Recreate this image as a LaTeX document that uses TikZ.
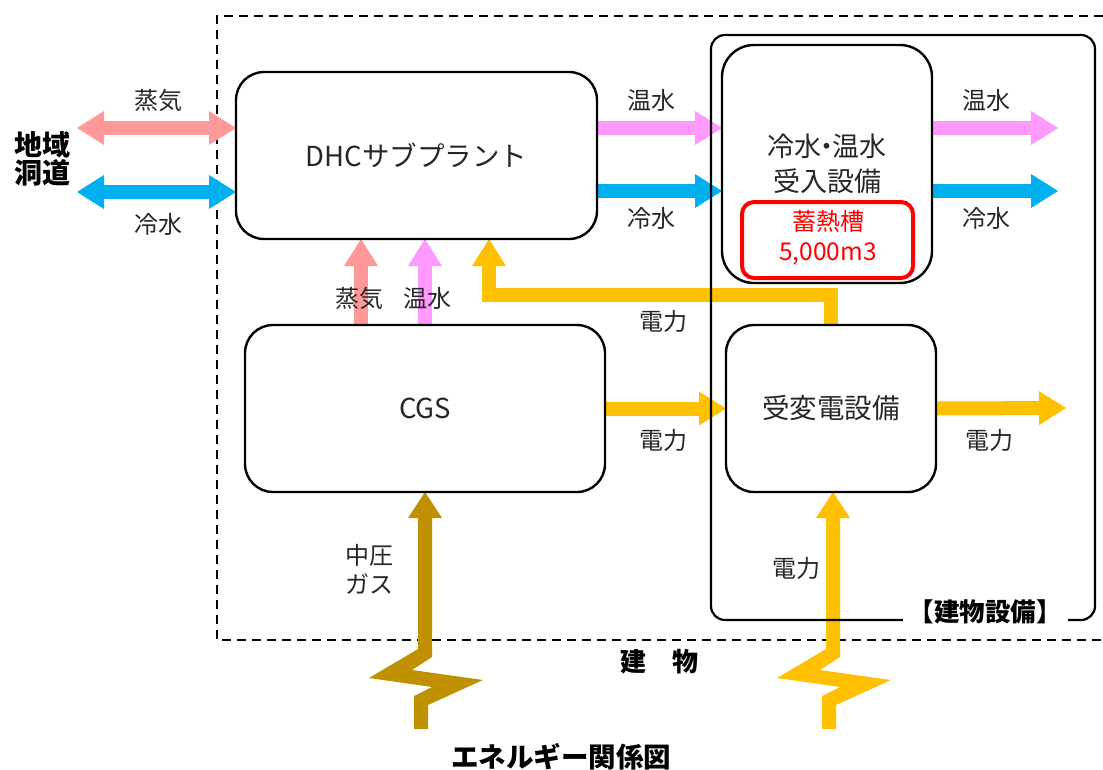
\documentclass[tikz,border=0pt]{standalone}
\usepackage{fontspec}
\setmainfont{Noto Sans CJK JP}
\usetikzlibrary{arrows.meta}
\definecolor{steamc}{RGB}{255,153,153}
\definecolor{coldc}{RGB}{0,176,240}
\definecolor{hotc}{RGB}{255,153,255}
\definecolor{elec}{RGB}{255,192,0}
\definecolor{gasc}{RGB}{191,144,0}
\definecolor{txt}{RGB}{38,38,38}
\begin{document}
\begin{tikzpicture}[x=1pt,y=-1pt,
  box/.style={draw, line width=2.4pt, rounded corners=28pt, inner sep=0pt, outer sep=0pt,
    text=txt, font=\fontsize{27.5}{32}\selectfont},
  lbl/.style={font=\fontsize{24}{28}\selectfont, text=txt, inner sep=0pt},
  blbl/.style={font=\fontsize{27}{31}\selectfont\bfseries, text=black, inner sep=0pt},
  tipA/.tip={Triangle[width=34pt,length=27pt,line width=0pt]},
  flow/.style={line width=14pt, line join=miter, -tipA},
  flowtwo/.style={line width=14pt, tipA-tipA},
  zig/.style={fill, draw=none},
]
\useasboundingbox (0,0) rectangle (1103,769);

% building outline (dashed)
\draw[line width=1.8pt, dash pattern=on 9pt off 6pt] (1103,16) -- (217,16) -- (217,640) -- (1103,640);

% node geometry (named), drawn again on top later
\path
  (416.5,155.5) node[box, draw=none, minimum width=361pt, minimum height=167pt] (dhc) {}
  (425,408.5)   node[box, draw=none, minimum width=360pt, minimum height=167pt] (cgs) {}
  (827,164)     node[box, draw=none, minimum width=210pt, minimum height=238pt] (uke) {}
  (831,408.5)   node[box, draw=none, minimum width=210pt, minimum height=167pt] (hen) {};

% coordinates for free ends
\coordinate (L1) at (77,128);
\coordinate (L2) at (77,192);
\coordinate (R1) at (1058,128);
\coordinate (R2) at (1058,191);
\coordinate (R3) at (1066,408);
\coordinate (bend) at (489,295);

% flows
\draw[flowtwo, steamc] (L1) -- (dhc.west |- L1);
\draw[flowtwo, coldc]  (L2) -- (dhc.west |- L2);
\draw[flow, hotc]  (dhc.east |- R1) -- (uke.west |- R1);
\draw[flow, coldc] (dhc.east |- R2) -- (uke.west |- R2);
\draw[flow, hotc]  (uke.east |- R1) -- (R1);
\draw[flow, coldc] (uke.east |- R2) -- (R2);
\draw[flow, steamc] (cgs.north -| 361,0) -- (dhc.south -| 361,0);
\draw[flow, hotc]   (cgs.north -| 425,0) -- (dhc.south -| 425,0);
\draw[flow, elec] (hen.north) |- (bend) -- (bend |- dhc.south);
\draw[flow, elec] (cgs.east) -- (hen.west);
\draw[flow, elec] (hen.east) -- (R3);

% zig-zag supply arrows
\begin{scope}[shift={(cgs.south)}]
  \path[zig, gasc] (-11,237) -- (-11,204) -- (7,195) -- (-56,186) -- (-7,157) -- (-7,26)
    -- (-17,26) -- (0,0) -- (17,26) -- (7,26) -- (7,165) -- (-13,178) -- (58,188)
    -- (3,213) -- (3,237) -- cycle;
\end{scope}
\begin{scope}[shift={(hen.south)}, xshift=2pt]
  \path[zig, elec] (-11,237) -- (-11,204) -- (7,195) -- (-56,186) -- (-7,157) -- (-7,26)
    -- (-17,26) -- (0,0) -- (17,26) -- (7,26) -- (7,165) -- (-13,178) -- (58,188)
    -- (3,213) -- (3,237) -- cycle;
\end{scope}

% building equipment frame
\draw[line width=2.2pt, rounded corners=14pt] (711,35) rectangle (1095,620);
\node[blbl, fill=white, inner xsep=6pt, inner ysep=4pt, font=\fontsize{25.5}{29}\selectfont\bfseries] (bldg) at (985,612) {【建物設備】};

% boxes drawn on top
\path
  (416.5,155.5) node[box, minimum width=361pt, minimum height=167pt] (dhcb) {DHCサブプラント}
  (425,408.5)   node[box, minimum width=360pt, minimum height=167pt] (cgsb) {CGS}
  (827,164)     node[box, rounded corners=32pt, minimum width=210pt, minimum height=238pt] (ukeb) {}
  (831,408.5)   node[box, minimum width=210pt, minimum height=167pt] (henb) {受変電設備};

\node[box, draw=none, font=\fontsize{27}{31}\selectfont] (uket1) at (827,146) {冷水\kern-.3em・\kern-.3em温水};
\node[box, draw=none, font=\fontsize{27}{31}\selectfont] (uket2) at (827,181) {受入設備};
\node[draw=red, line width=4pt, rounded corners=12pt, minimum width=171pt, minimum height=76pt, inner sep=0pt] (tank) at (827.5,240) {};
\node[lbl, text=red, font=\fontsize{24}{28}\selectfont] (tank1) at (828,221) {蓄熱槽};
\node[lbl, text=red, font=\fontsize{24.5}{28}\selectfont] (tank2) at (828,254) {5,000m3};

% labels
\node[lbl] (l1) at (158,100) {蒸気};
\node[lbl] (l2) at (158,224) {冷水};
\node[lbl] (l3) at (651,100) {温水};
\node[lbl] (l4) at (651,218) {冷水};
\node[lbl] (l5) at (986,100) {温水};
\node[lbl] (l6) at (986,218) {冷水};
\node[lbl] (l7) at (359,298) {蒸気};
\node[lbl] (l8) at (427,298) {温水};
\node[lbl] (l9) at (663,321) {電力};
\node[lbl] (l10) at (663,440) {電力};
\node[lbl] (l11) at (989,440) {電力};
\node[lbl] (l12) at (369,555) {中圧};
\node[lbl] (l13) at (369,584) {ガス};
\node[lbl] (l14) at (796,568) {電力};

\node[blbl, font=\fontsize{28}{32}\selectfont\bfseries] (t1) at (42,145) {地域};
\node[blbl, font=\fontsize{28}{32}\selectfont\bfseries] (t2) at (42,173) {洞道};
\node[blbl, font=\fontsize{26}{30}\selectfont\bfseries] (t3) at (659,662) {建\hspace{1em}物};
\node[blbl, font=\fontsize{27.5}{31}\selectfont\bfseries] (t4) at (561,757) {エネルギー関係図};
\end{tikzpicture}
\end{document}
